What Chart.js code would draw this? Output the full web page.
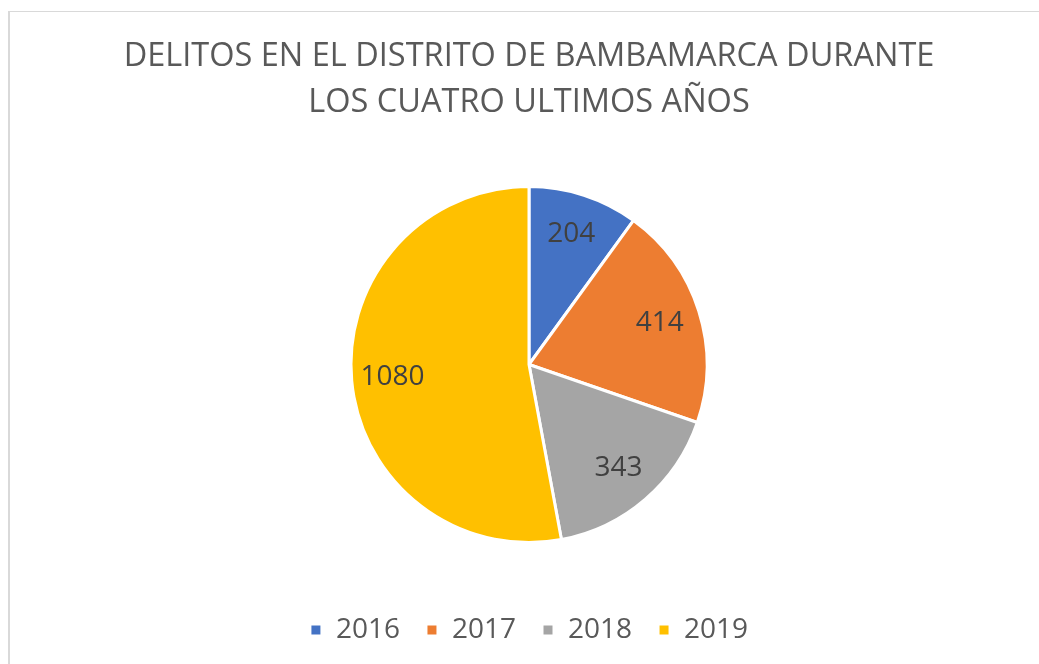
<!DOCTYPE html>
<html><head><meta charset="utf-8">
<script src="https://cdn.jsdelivr.net/npm/chart.js@4.4.1/dist/chart.umd.min.js"></script>
<style>
html,body{margin:0;padding:0;background:#fff;width:1039px;height:664px;overflow:hidden}
#frame{position:absolute;left:8px;top:11px;width:1031px;height:653px;border-top:1px solid #d9d9d9;border-left:2px solid #d9d9d9;box-sizing:border-box}
#wrap{position:absolute;left:0;top:0;width:1039px;height:664px}
</style></head>
<body>
<div id="frame"></div>
<div id="wrap"><canvas id="c" width="1039" height="664"></canvas></div>
<script>
const titleLines = ["DELITOS EN EL DISTRITO DE BAMBAMARCA DURANTE", "LOS CUATRO ULTIMOS AÑOS"];
const categories = ["2016", "2017", "2018", "2019"];
const values = [204, 414, 343, 1080];
const colors = ["#4472C4", "#ED7D31", "#A5A5A5", "#FFC000"];

const FONT = "'Open Sans', sans-serif";

const labelPlugin = {
  id: 'sliceLabels',
  afterDatasetsDraw(chart) {
    const ctx = chart.ctx;
    const meta = chart.getDatasetMeta(0);
    ctx.save();
    ctx.font = "28px " + FONT;
    ctx.fillStyle = "#404040";
    ctx.textAlign = "center";
    ctx.textBaseline = "middle";
    meta.data.forEach((arc, i) => {
      const p = arc.getProps(['x','y','startAngle','endAngle','outerRadius'], true);
      const mid = (p.startAngle + p.endAngle) / 2;
      const r = p.outerRadius * 0.77;
      ctx.fillText(String(values[i]), p.x + Math.cos(mid) * r, p.y + Math.sin(mid) * r);
    });
    ctx.restore();
  }
};

new Chart(document.getElementById('c'), {
  type: 'pie',
  data: {
    labels: categories,
    datasets: [{
      data: values,
      backgroundColor: colors,
      borderColor: '#ffffff',
      borderWidth: 3,
      hoverOffset: 0
    }]
  },
  options: {
    responsive: false,
    animation: false,
    events: [],
    layout: { padding: { left: 19, right: 0, top: 0, bottom: 10 } },
    plugins: {
      tooltip: { enabled: false },
      title: {
        display: true,
        text: titleLines,
        color: '#595959',
        font: { family: FONT, size: 32.5, weight: 'normal', lineHeight: 1.4 },
        padding: { top: 34, bottom: 60 }
      },
      legend: {
        display: true,
        position: 'bottom',
        title: {
          display: true,
          text: ' ',
          font: { size: 1, lineHeight: 1 },
          padding: { top: 45, bottom: 0 }
        },
        labels: {
          color: '#595959',
          font: { family: FONT, size: 28 },
          boxWidth: 12,
          boxHeight: 12,
          padding: 26
        }
      }
    }
  },
  plugins: [labelPlugin]
});
</script>
</body></html>
